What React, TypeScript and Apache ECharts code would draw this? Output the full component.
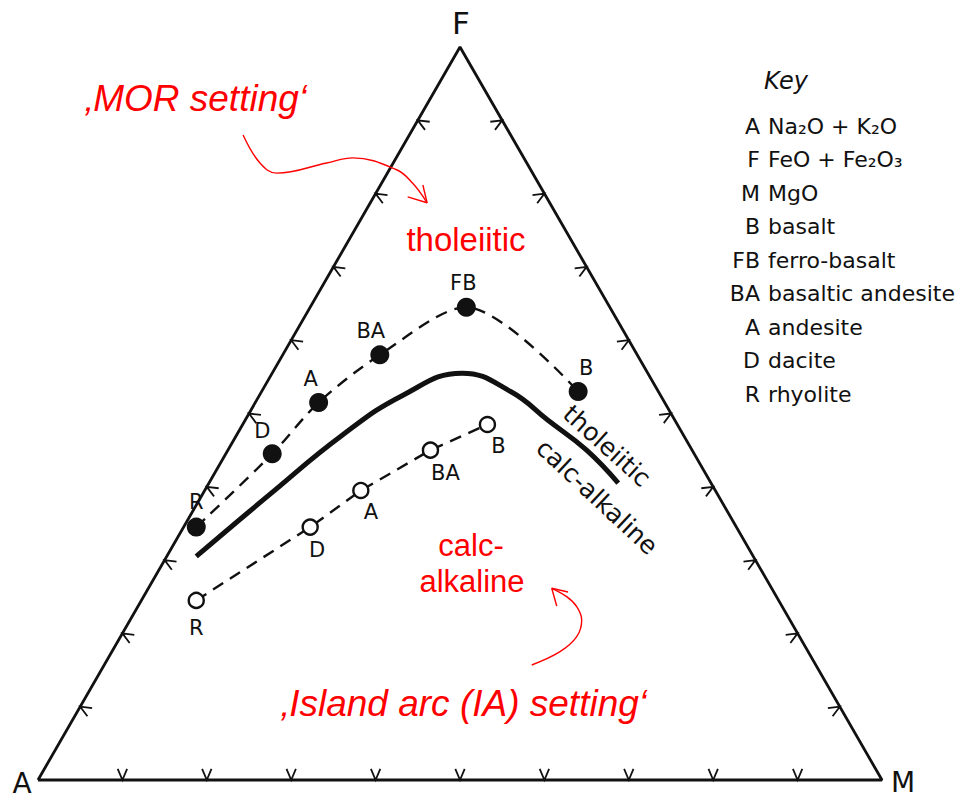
import React, { useEffect, useRef } from "react";
import * as echarts from "echarts";

const SQ = Math.sqrt(3) / 2;

// ---------- Data (ternary %: A = Na2O+K2O, F = FeO+Fe2O3, M = MgO) ----------
const thLabels = ["R", "D", "A", "BA", "FB", "B"];
const thA = [64, 50, 41, 30.5, 17, 9.5];
const thF = [34.5, 44.5, 51.5, 58, 64.5, 53];
const thM = [1.5, 5.5, 7.5, 11.5, 18.5, 37.5];

const caLabels = ["R", "D", "A", "BA", "B"];
const caA = [69, 50.5, 42, 31, 22.5];
const caF = [24.5, 34.5, 39.5, 45, 48.5];
const caM = [6.5, 15, 18.5, 24, 29];

// Tholeiitic / calc-alkaline dividing curve
const divA = [66, 53, 40.5, 30.5, 22, 17.5, 15, 12.5, 11];
const divF = [30.5, 39, 47, 52.5, 55.5, 53, 49, 45, 40.5];
const divM = [3.5, 8, 12.5, 17, 22.5, 29.5, 36, 42.5, 48.5];

// Edge tick values (%)
const tickValues = [10, 20, 30, 40, 50, 60, 70, 80, 90];

// Key
const keyAbbr = ["A", "F", "M", "B", "FB", "BA", "A", "D", "R"];
const keyDesc = [
  "Na₂O + K₂O",
  "FeO + Fe₂O₃",
  "MgO",
  "basalt",
  "ferro-basalt",
  "basaltic andesite",
  "andesite",
  "dacite",
  "rhyolite",
];

// Annotation arrows (cartesian plot units)
const morArrowX = [24.3, 26.3, 28.3, 34.2, 37.3, 42.5, 44.4, 46.1];
const morArrowY = [76.2, 72.9, 71.7, 72.9, 73.5, 72.1, 70.5, 68.2];
const morHeadX = [43.8, 46.1, 45.6];
const morHeadY = [68.9, 68.2, 70.3];
const iaArrowX = [58.5, 61.85, 63.83, 64.42, 63.83, 62.64, 60.87];
const iaArrowY = [13.59, 15.16, 16.93, 18.9, 20.48, 21.66, 22.65];
const iaHeadX = [62.8, 60.87, 61.46];
const iaHeadY = [22.21, 22.65, 20.56];

// label offsets for points (px)
const thLabelOffsets = [[0, -25], [-10, -23], [-8, -24], [-9, -24], [-3, -24], [8, -24]];
const caLabelOffsets = [[0, 28], [7, 23], [10, 22], [15, 23], [11, 22]];

const toXY = (F: number, M: number) => [M + F / 2, F * SQ];

const BLACK = "#111111";
const RED = "#ff0000";
const SANS = "DejaVu Sans";
const RED_FONT = "Liberation Sans";

export default function App() {
  const ref = useRef<HTMLDivElement>(null);

  useEffect(() => {
    const chart = echarts.init(ref.current!, null, { renderer: "svg" });

    const triangle = [toXY(0, 0), toXY(100, 0), toXY(0, 100), toXY(0, 0)];

    // ticks: edge 0 = bottom (A-M), 1 = left (A-F), 2 = right (F-M)
    const ticks: number[][] = [];
    tickValues.forEach((v) => {
      const b = toXY(0, v);
      ticks.push([b[0], b[1], 0]);
      const l = toXY(v, 0);
      ticks.push([l[0], l[1], 1]);
      const r = toXY(v, 100 - v);
      ticks.push([r[0], r[1], 2]);
    });
    const normalAngles = [-90, 30, 150];

    const thData = thLabels.map((n, i) => ({
      name: n,
      value: toXY(thF[i], thM[i]),
      label: { offset: thLabelOffsets[i] },
    }));
    const caData = caLabels.map((n, i) => ({
      name: n,
      value: toXY(caF[i], caM[i]),
      label: { offset: caLabelOffsets[i] },
    }));
    const divData = divA.map((_, i) => toXY(divF[i], divM[i]));

    const pointLabel = {
      show: true,
      position: "inside",
      formatter: "{b}",
      color: BLACK,
      opacity: 1,
      fontSize: 21,
      fontFamily: SANS,
    };

    const txt = (
      x: number,
      y: number,
      text: string,
      size: number,
      opts: any = {}
    ) => ({
      type: "text",
      x,
      y,
      rotation: opts.rotation || 0,
      z: 100,
      style: {
        text,
        fill: opts.fill || BLACK,
        fontSize: size,
        fontFamily: opts.family || SANS,
        fontStyle: opts.italic ? "italic" : "normal",
        align: opts.align || "center",
        textAlign: opts.align || "center",
        verticalAlign: "middle",
        textVerticalAlign: "middle",
      },
    });

    const graphics: any[] = [
      txt(461, 23, "F", 31),
      txt(22, 783, "A", 28),
      txt(903, 782, "M", 28),
      txt(786, 81, "Key", 24, { italic: true }),
      txt(196, 98, "‚MOR setting‘", 37, { fill: RED, family: RED_FONT, italic: true }),
      txt(466, 239, "tholeiitic", 33, { fill: RED, family: RED_FONT }),
      txt(471, 545, "calc-", 31, { fill: RED, family: RED_FONT }),
      txt(472, 581, "alkaline", 31, { fill: RED, family: RED_FONT }),
      txt(464, 703, "‚Island arc (IA) setting‘", 37, { fill: RED, family: RED_FONT, italic: true }),
      txt(607, 446, "tholeiitic", 25, { rotation: (-42 * Math.PI) / 180 }),
      txt(597, 497, "calc-alkaline", 25, { rotation: (-43 * Math.PI) / 180 }),
    ];
    keyAbbr.forEach((a, i) => {
      const y = 126 + 33.5 * i;
      graphics.push(txt(760, y, a, 22, { align: "right" }));
      graphics.push(txt(768, y, keyDesc[i], 22, { align: "left" }));
    });

    const redLine = (xs: number[], ys: number[], smooth: number | boolean) => ({
      type: "line",
      data: xs.map((x, i) => [x, ys[i]]),
      smooth,
      symbol: "none",
      clip: false,
      silent: true,
      lineStyle: { color: RED, width: 1.4 },
      z: 5,
    });

    chart.setOption({
      animation: false,
      backgroundColor: "#ffffff",
      grid: { left: 38, right: 85, top: 47, bottom: 19 },
      xAxis: { type: "value", min: 0, max: 100, show: false },
      yAxis: { type: "value", min: 0, max: 100 * SQ, show: false },
      graphic: graphics,
      series: [
        {
          type: "line",
          data: triangle,
          symbol: "none",
          clip: false,
          lineStyle: { color: BLACK, width: 2.8 },
          z: 2,
        },
        {
          type: "custom",
          coordinateSystem: "cartesian2d",
          clip: false,
          data: ticks,
          encode: { x: 0, y: 1 },
          renderItem: (params: any, api: any) => {
            const p = api.coord([api.value(0), api.value(1)]);
            const e = api.value(2) as number;
            const ang = (normalAngles[e] * Math.PI) / 180;
            const half = (23 * Math.PI) / 180;
            const L = 12;
            const a1 = [p[0] + L * Math.cos(ang - half), p[1] + L * Math.sin(ang - half)];
            const a2 = [p[0] + L * Math.cos(ang + half), p[1] + L * Math.sin(ang + half)];
            return {
              type: "polyline",
              shape: { points: [a1, p, a2] },
              style: { stroke: BLACK, lineWidth: 1.8, fill: "none" },
            };
          },
          z: 3,
        },
        {
          type: "line",
          data: divData,
          smooth: 0.45,
          symbol: "none",
          clip: false,
          lineStyle: { color: BLACK, width: 5 },
          z: 4,
        },
        {
          type: "line",
          data: thData.map((d) => d.value),
          smooth: 0.3,
          symbol: "none",
          clip: false,
          lineStyle: { color: BLACK, width: 2.4, type: [12, 8] },
          z: 4,
        },
        {
          type: "line",
          data: caData.map((d) => d.value),
          symbol: "none",
          clip: false,
          lineStyle: { color: BLACK, width: 2.4, type: [12, 8] },
          z: 4,
        },
        {
          type: "scatter",
          data: thData,
          symbol: "circle",
          symbolSize: 19,
          clip: false,
          itemStyle: { color: BLACK, opacity: 1 },
          label: pointLabel,
          z: 6,
        },
        {
          type: "scatter",
          data: caData,
          symbol: "circle",
          symbolSize: 15,
          clip: false,
          itemStyle: { color: "#ffffff", borderColor: BLACK, borderWidth: 2.4, opacity: 1 },
          label: pointLabel,
          z: 6,
        },
        redLine(morArrowX, morArrowY, 0.4),
        redLine(morHeadX, morHeadY, false),
        redLine(iaArrowX, iaArrowY, 0.4),
        redLine(iaHeadX, iaHeadY, false),
      ],
    });

    return () => chart.dispose();
  }, []);

  return (
    <div
      ref={ref}
      style={{
        position: "fixed",
        left: 0,
        top: 0,
        width: 967,
        height: 799,
        background: "#ffffff",
      }}
    />
  );
}
